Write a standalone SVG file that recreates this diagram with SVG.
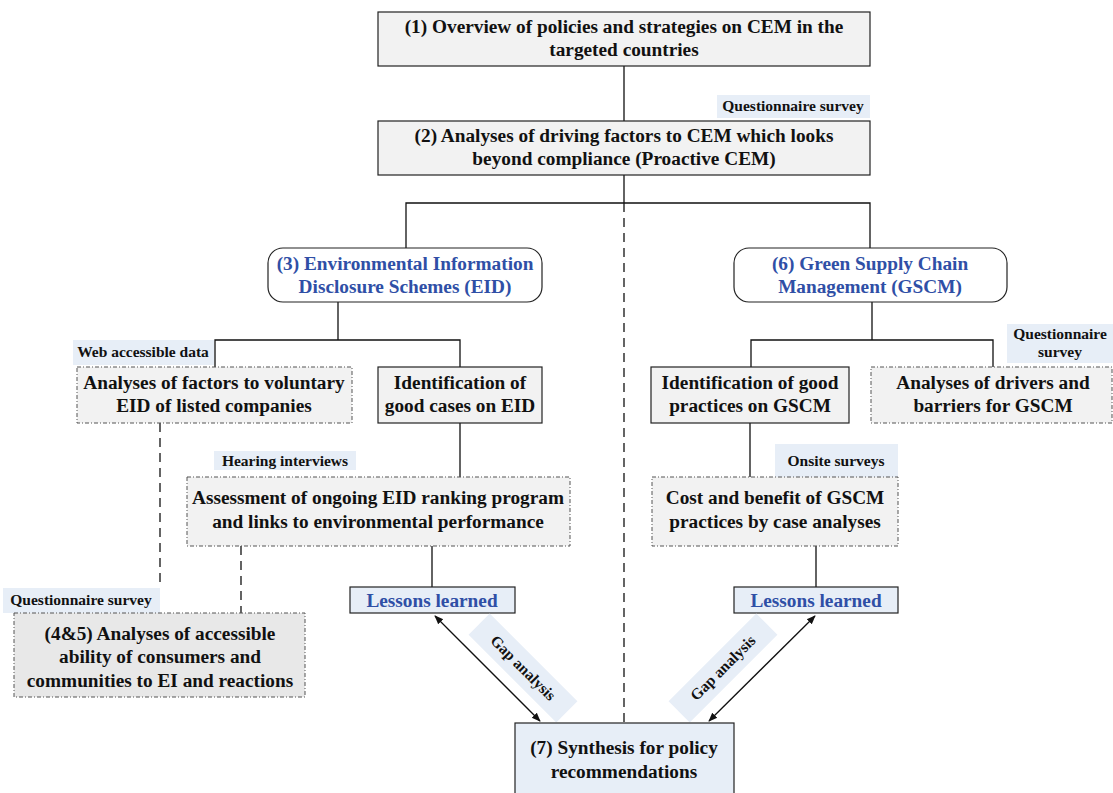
<svg xmlns="http://www.w3.org/2000/svg" width="1113" height="793" viewBox="0 0 1113 793">
<style>
text{font-family:"Liberation Serif","Times New Roman",serif;font-weight:bold;text-anchor:middle;fill:#111}
.t{font-size:19.3px}
.s{font-size:15.5px}
.blue{fill:#2f4fa6}
.solid{fill:#f2f2f2;stroke:#222;stroke-width:1.2}
.dd{fill:#f2f2f2;stroke:#555;stroke-width:1;stroke-dasharray:4 2 1 2}
.lab{fill:#e7eef7;stroke:none}
.ln{stroke:#111;stroke-width:1.3;fill:none}
.dash{stroke:#111;stroke-width:1.3;fill:none;stroke-dasharray:9 6}
</style>
<defs>
<marker id="ah" viewBox="0 0 10 10" refX="9" refY="5" markerWidth="9" markerHeight="9" orient="auto-start-reverse" markerUnits="userSpaceOnUse">
<path d="M0,1 L10,5 L0,9 Z" fill="#111"/>
</marker>
</defs>
<rect width="1113" height="793" fill="#fff"/>
<g id="connectors">
<path class="ln" d="M624,66V121M624,175V203M406,248V203H870V248"/>
<path class="dash" d="M624,203V723"/>
<path class="ln" d="M338,302V340M215,367V340H460V367"/>
<path class="ln" d="M872,302V340M751,367V340H993V367"/>
<path class="ln" d="M460,423V477M432,546V587"/>
<path class="ln" d="M750,423V477M816,546V587"/>
<path class="dash" d="M160,423V588M241,546V613"/>
<line class="ln" x1="435" y1="616" x2="540" y2="721" marker-start="url(#ah)" marker-end="url(#ah)"/>
<line class="ln" x1="815" y1="616" x2="709" y2="721" marker-start="url(#ah)" marker-end="url(#ah)"/>
</g>
<g id="n1"><rect class="solid" x="378" y="12" width="492" height="54"/>
<text class="t" x="624" y="33">(1) Overview of policies and strategies on CEM in the</text>
<text class="t" x="624" y="56">targeted countries</text></g>
<g id="lab-q1"><rect class="lab" x="717" y="95" width="153" height="23"/><text class="s" x="793" y="111">Questionnaire survey</text></g>
<g id="n2"><rect class="solid" x="378" y="121" width="492" height="54"/>
<text class="t" x="624" y="142">(2) Analyses of driving factors to CEM which looks</text>
<text class="t" x="624" y="165">beyond compliance (Proactive CEM)</text></g>
<g id="n3"><rect x="268" y="248" width="274" height="54" rx="15" fill="#fff" stroke="#222" stroke-width="1.2"/>
<text class="t blue" x="405" y="270">(3) Environmental Information</text>
<text class="t blue" x="405" y="293">Disclosure Schemes (EID)</text></g>
<g id="n6"><rect x="734" y="248" width="273" height="54" rx="15" fill="#fff" stroke="#222" stroke-width="1.2"/>
<text class="t blue" x="870" y="270">(6) Green Supply Chain</text>
<text class="t blue" x="870" y="293">Management (GSCM)</text></g>
<g id="lab-web"><rect class="lab" x="73" y="340" width="141" height="25"/><text class="s" x="143" y="357">Web accessible data</text></g>
<g id="n-factors"><rect class="dd" x="77" y="367" width="275" height="56"/>
<text class="t" x="214" y="389">Analyses of factors to voluntary</text>
<text class="t" x="214" y="412">EID of listed companies</text></g>
<g id="n-goodcases"><rect class="solid" x="378" y="367" width="164" height="56"/>
<text class="t" x="460" y="389">Identification of</text>
<text class="t" x="460" y="412">good cases on EID</text></g>
<g id="n-goodpractices"><rect class="solid" x="651" y="367" width="198" height="56"/>
<text class="t" x="750" y="389">Identification of good</text>
<text class="t" x="750" y="412">practices on GSCM</text></g>
<g id="lab-q2"><rect class="lab" x="1007" y="324" width="106" height="39"/>
<text class="s" x="1060" y="339">Questionnaire</text><text class="s" x="1060" y="357">survey</text></g>
<g id="n-drivers"><rect class="dd" x="871" y="367" width="241" height="56"/>
<text class="t" x="993" y="389">Analyses of drivers and</text>
<text class="t" x="993" y="412">barriers for GSCM</text></g>
<g id="lab-hear"><rect class="lab" x="214" y="451" width="142" height="19"/><text class="s" x="285" y="466">Hearing interviews</text></g>
<g id="n-assess"><rect class="dd" x="187" y="477" width="383" height="69"/>
<text class="t" x="378" y="504">Assessment of ongoing EID ranking program</text>
<text class="t" x="378" y="528">and links to environmental performance</text></g>
<g id="lab-onsite"><rect class="lab" x="775" y="444" width="123" height="33"/><text class="s" x="836" y="466">Onsite surveys</text></g>
<g id="n-cost"><rect class="dd" x="652" y="477" width="246" height="69"/>
<text class="t" x="775" y="504">Cost and benefit of GSCM</text>
<text class="t" x="775" y="528">practices by case analyses</text></g>
<g id="n-lessons-l"><rect x="350" y="587" width="165" height="26" fill="#e7eef7" stroke="#222" stroke-width="1.2"/>
<text class="t blue" x="432" y="607">Lessons learned</text></g>
<g id="n-lessons-r"><rect x="734" y="587" width="164" height="26" fill="#e7eef7" stroke="#222" stroke-width="1.2"/>
<text class="t blue" x="816" y="607">Lessons learned</text></g>
<g id="lab-q3"><rect class="lab" x="3" y="588" width="157" height="25"/><text class="s" x="81" y="605">Questionnaire survey</text></g>
<g id="n45"><rect class="dd" x="14" y="613" width="291" height="84" style="fill:#e8e8e8"/>
<text class="t" x="160" y="640">(4&amp;5) Analyses of accessible</text>
<text class="t" x="160" y="663">ability of consumers and</text>
<text class="t" x="160" y="687">communities to EI and reactions</text></g>
<g id="lab-gap-l" transform="translate(523,668) rotate(45)"><rect class="lab" x="-62" y="-15" width="124" height="30"/><text class="s" x="0" y="5">Gap analysis</text></g>
<g id="lab-gap-r" transform="translate(723,668) rotate(-45)"><rect class="lab" x="-62" y="-15" width="124" height="30"/><text class="s" x="0" y="5">Gap analysis</text></g>
<g id="n7"><rect x="515" y="723" width="219" height="75" fill="#e7eef7" stroke="#222" stroke-width="1.2"/>
<text class="t" x="624" y="754">(7) Synthesis for policy</text>
<text class="t" x="624" y="778">recommendations</text></g>
</svg>
